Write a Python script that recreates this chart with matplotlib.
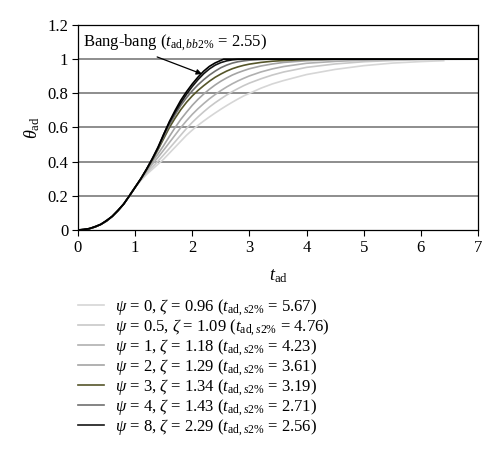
import matplotlib
matplotlib.use('Agg')
import matplotlib.pyplot as plt

plt.rcParams['font.family'] = ['Liberation Serif', 'DejaVu Serif']
plt.rcParams['mathtext.fontset'] = 'custom'
plt.rcParams['mathtext.rm'] = 'Liberation Serif'
plt.rcParams['mathtext.it'] = 'Liberation Serif:italic'

# time grid
t = [0, 0.1, 0.2, 0.3, 0.4, 0.5, 0.6, 0.7, 0.8, 0.9,
     1.0, 1.1, 1.2, 1.3, 1.4, 1.5, 1.6, 1.7, 1.8, 1.9,
     2.0, 2.1, 2.2, 2.3, 2.4, 2.5, 2.6, 2.7, 2.8, 2.9,
     3.0, 3.2, 3.4, 3.6, 4.0, 4.5, 5.0, 5.5, 6.0, 6.4, 7.0]

# common start, all curves coincide up to about t = 1
early = [0, 0.002, 0.008, 0.018, 0.033, 0.053, 0.08, 0.113, 0.152, 0.2, 0.25]

theta_psi0 = early + [0.29, 0.325, 0.355, 0.385, 0.415, 0.45, 0.485, 0.52, 0.555,
                      0.585, 0.613, 0.638, 0.662, 0.685, 0.707, 0.728, 0.748, 0.767, 0.785,
                      0.80, 0.83, 0.855, 0.875, 0.91, 0.94, 0.962, 0.977, 0.986, 0.991]
theta_psi05 = early + [0.293, 0.333, 0.368, 0.403, 0.44, 0.478, 0.517, 0.556, 0.595,
                       0.63, 0.662, 0.692, 0.72, 0.745, 0.768, 0.79, 0.81, 0.828, 0.845,
                       0.86, 0.885, 0.907, 0.925, 0.952, 0.972, 0.985, 0.992, 0.997, 0.999, 1.0]
theta_psi1 = early + [0.296, 0.342, 0.385, 0.425, 0.468, 0.512, 0.556, 0.60, 0.64,
                      0.677, 0.71, 0.74, 0.768, 0.793, 0.816, 0.837, 0.856, 0.873, 0.888,
                      0.902, 0.925, 0.943, 0.957, 0.976, 0.987, 0.994, 0.998, 1.0, 1.0, 1.0]
theta_psi2 = early + [0.298, 0.349, 0.40, 0.445, 0.495, 0.548, 0.60, 0.648, 0.69,
                      0.73, 0.765, 0.796, 0.824, 0.849, 0.871, 0.89, 0.907, 0.921, 0.933,
                      0.944, 0.96, 0.972, 0.981, 0.991, 0.997, 1.0, 1.0, 1.0, 1.0, 1.0]
theta_psi3 = early + [0.30, 0.353, 0.41, 0.47, 0.535, 0.60, 0.655, 0.705, 0.748,
                      0.785, 0.817, 0.845, 0.871, 0.894, 0.913, 0.93, 0.944, 0.955, 0.964,
                      0.971, 0.981, 0.988, 0.992, 0.998, 1.0, 1.0, 1.0, 1.0, 1.0, 1.0]
theta_psi4 = early + [0.30, 0.355, 0.413, 0.475, 0.545, 0.615, 0.675, 0.73, 0.775,
                      0.815, 0.85, 0.88, 0.907, 0.93, 0.95, 0.965, 0.977, 0.985, 0.99,
                      0.994, 0.998, 1.0, 1.0, 1.0, 1.0, 1.0, 1.0, 1.0, 1.0, 1.0]
theta_psi8 = early + [0.30, 0.355, 0.415, 0.48, 0.56, 0.63, 0.69, 0.745, 0.795,
                      0.84, 0.88, 0.915, 0.943, 0.965, 0.98, 0.99, 0.996, 0.999, 1.0,
                      1.0, 1.0, 1.0, 1.0, 1.0, 1.0, 1.0, 1.0, 1.0, 1.0, 1.0]

t_bb = [0, 0.2, 0.4, 0.6, 0.8, 1.0, 1.1, 1.2, 1.3, 1.4, 1.5, 1.6, 1.7, 1.8, 1.9,
        2.0, 2.1, 2.2, 2.3, 2.4, 2.5, 2.55, 7.0]
theta_bb = [0, 0.008, 0.033, 0.08, 0.152, 0.25, 0.30, 0.357, 0.418, 0.485, 0.56,
            0.635, 0.70, 0.76, 0.81, 0.855, 0.895, 0.93, 0.958, 0.978, 0.993, 1.0, 1.0]

labels = [
    r'$\psi$ = 0, $\zeta$ = 0.96 ($t_{\mathrm{ad},s2\%}$ = 5.67)',
    r'$\psi$ = 0.5, $\zeta$ = 1.09 ($t_{\mathrm{ad},s2\%}$ = 4.76)',
    r'$\psi$ = 1, $\zeta$ = 1.18 ($t_{\mathrm{ad},s2\%}$ = 4.23)',
    r'$\psi$ = 2, $\zeta$ = 1.29 ($t_{\mathrm{ad},s2\%}$ = 3.61)',
    r'$\psi$ = 3, $\zeta$ = 1.34 ($t_{\mathrm{ad},s2\%}$ = 3.19)',
    r'$\psi$ = 4, $\zeta$ = 1.43 ($t_{\mathrm{ad},s2\%}$ = 2.71)',
    r'$\psi$ = 8, $\zeta$ = 2.29 ($t_{\mathrm{ad},s2\%}$ = 2.56)',
]
series = [theta_psi0, theta_psi05, theta_psi1, theta_psi2, theta_psi3, theta_psi4, theta_psi8]
colors = ['#d6d6d6', '#c8c8c8', '#b0b0b0', '#a4a4a4', '#55552a', '#707070', '#151515']

fig = plt.figure(figsize=(5.0, 4.53), dpi=100)
ax = fig.add_axes([0.156, 0.4923, 0.8, 0.4525])

for y in [0.2, 0.4, 0.6, 0.8, 1.0]:
    ax.axhline(y, color='#7a7a7a', lw=1.2, zorder=1)

handles = []
for vals, c, lab in zip(series, colors, labels):
    h, = ax.plot(t[:len(vals)], vals, color=c, lw=1.2, zorder=2, label=lab)
    handles.append(h)
ax.plot(t_bb, theta_bb, color='#000000', lw=1.2, zorder=3)

ax.text(0.09, 1.095, 'Bang-bang ($t_{\\mathrm{ad},bb2\\%}$ = 2.55)', fontsize=12,
        va='center', ha='left')
ax.annotate('', xy=(2.17, 0.913), xytext=(1.385, 1.013),
            arrowprops=dict(arrowstyle='-|>', color='black', lw=0.9,
                            mutation_scale=8, shrinkA=0, shrinkB=0),
            zorder=4)

ax.set_xlim(0, 7)
ax.set_ylim(0, 1.2)
ax.set_xticks(range(8))
ax.set_yticks([0, 0.2, 0.4, 0.6, 0.8, 1.0, 1.2])
ax.set_yticklabels(['0', '0.2', '0.4', '0.6', '0.8', '1', '1.2'])
ax.tick_params(labelsize=12, direction='out', length=4, width=0.8, pad=3)
for s in ax.spines.values():
    s.set_linewidth(0.9)
ax.set_xlabel(r'$t_{\mathrm{ad}}$', fontsize=13)
ax.set_ylabel(r'$\theta_{\mathrm{ad}}$', fontsize=13)
ax.xaxis.set_label_coords(0.5, -0.18)
ax.yaxis.set_label_coords(-0.09, 0.5)

fig.legend(handles=handles, loc='upper left', bbox_to_anchor=(0.155, 0.345),
           frameon=False, fontsize=12, handlelength=1.6, handletextpad=0.65,
           labelspacing=-0.05, borderpad=0, borderaxespad=0)

fig.savefig('out.png', dpi=100)
